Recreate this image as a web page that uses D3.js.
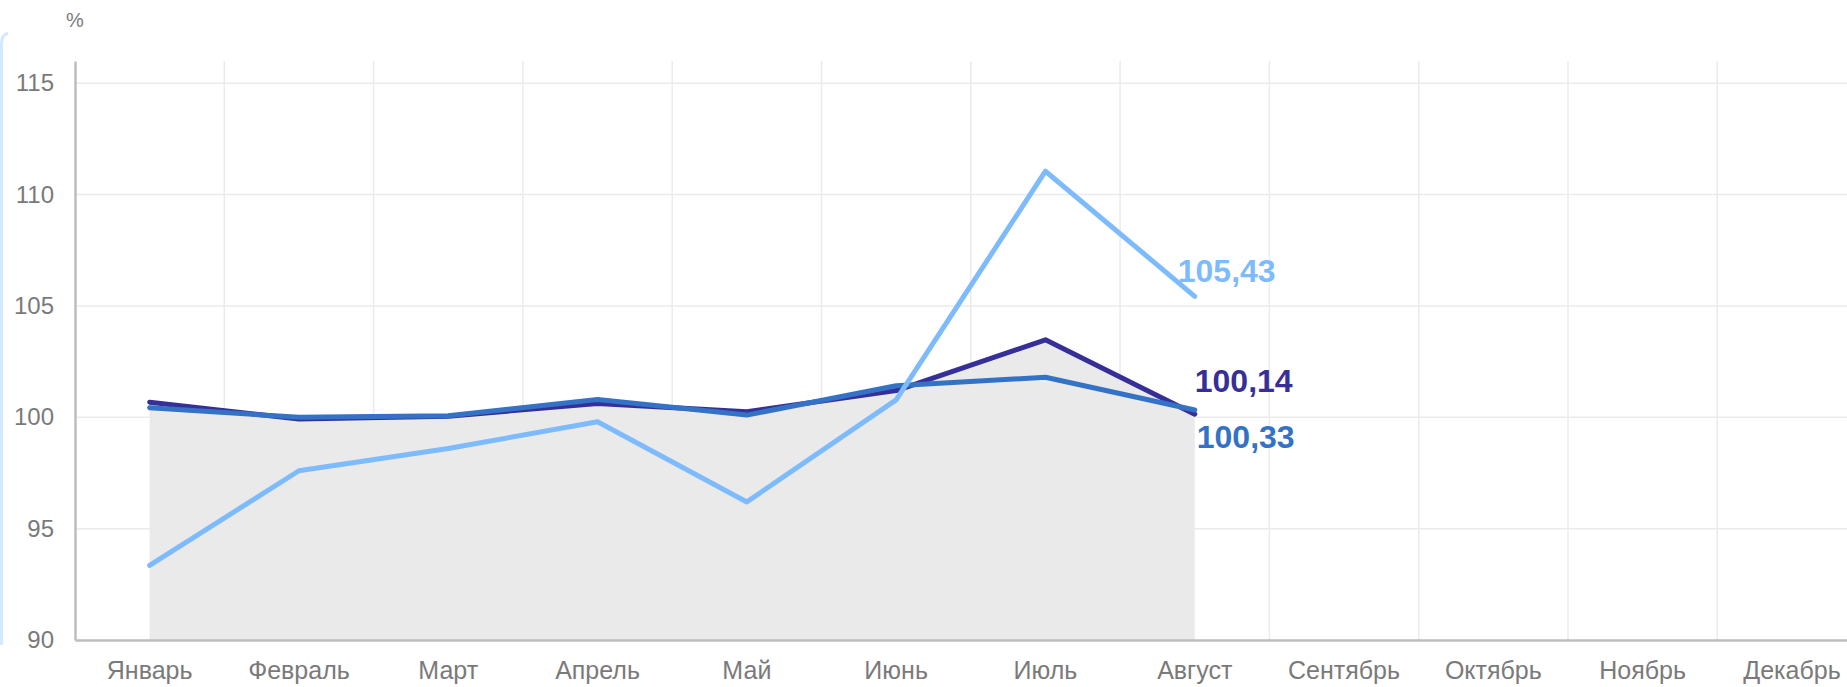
<!DOCTYPE html>
<html>
<head>
<meta charset="utf-8">
<script src="https://cdn.jsdelivr.net/npm/d3@7"></script>
<style>
  body { margin: 0; background: #fff; overflow: hidden; }
  svg { display: block; font-family: Arial, "Liberation Sans", sans-serif; }
</style>
</head>
<body>
<script>
'use strict';

// months and series values
const months = ["Январь", "Февраль", "Март", "Апрель", "Май", "Июнь",
  "Июль", "Август", "Сентябрь", "Октябрь", "Ноябрь", "Декабрь"];
const darkValues = [100.68, 99.92, 100.05, 100.62, 100.25, 101.2, 103.48, 100.14];
const midValues = [100.43, 100.0, 100.07, 100.8, 100.1, 101.42, 101.8, 100.33];
const lightValues = [93.35, 97.6, 98.6, 99.8, 96.2, 100.78, 111.05, 105.43];
const yTicks = [90, 95, 100, 105, 110, 115];
const lastLabels = ["105,43", "100,14", "100,33"];

const width = 1847, height = 687;

let svg = d3.select('body')
  .append('svg')
  .attr('width', width)
  .attr('height', height);

// light blue left edge of the card
svg.append('path')
  .attr('d', 'M1.5,645 L1.5,44 Q1.5,35 8,33')
  .attr('fill', 'none')
  .attr('stroke', '#d3e9ff')
  .attr('stroke-width', 3);

let xScale = d3.scaleBand()
  .domain(months)
  .range([75, 75 + 149.3 * 12])
  .paddingInner(0)
  .paddingOuter(0);

let yScale = d3.scaleLinear()
  .domain([90, 116])
  .range([640, 61]);

let xMid = function(i) { return xScale(months[i]) + xScale.bandwidth() / 2; };

// horizontal grid
svg.append('g')
  .selectAll('line')
  .data(yTicks.slice(1))
  .enter()
  .append('line')
  .attr('x1', 75).attr('x2', width)
  .attr('y1', d => yScale(d)).attr('y2', d => yScale(d))
  .attr('stroke', '#ebebeb')
  .attr('stroke-width', 1.5);

// vertical grid between months
svg.append('g')
  .selectAll('line')
  .data(months.slice(1))
  .enter()
  .append('line')
  .attr('x1', d => xScale(d)).attr('x2', d => xScale(d))
  .attr('y1', 61).attr('y2', 640)
  .attr('stroke', '#ebebeb')
  .attr('stroke-width', 1.5);

// gray area under the dark series
let area = d3.area()
  .x((d, i) => xMid(i))
  .y0(yScale(90))
  .y1(d => yScale(d));

svg.append('path')
  .datum(darkValues)
  .attr('d', area)
  .attr('fill', '#eaeaea');

// axes
let xAxis = d3.axisBottom(xScale).tickSize(0).tickPadding(21);
let gx = svg.append('g')
  .attr('transform', 'translate(0, 640)')
  .call(xAxis);
gx.select('.domain').attr('stroke', '#bdbdbd').attr('stroke-width', 2.5);
gx.selectAll('text')
  .attr('fill', '#7a7a7a')
  .style('font-size', '25px')
  .attr('dy', '0.71em');

let yAxis = d3.axisLeft(yScale).tickValues(yTicks).tickSize(0).tickPadding(21);
let gy = svg.append('g')
  .attr('transform', 'translate(75, 0)')
  .call(yAxis);
gy.select('.domain').attr('stroke', '#bdbdbd').attr('stroke-width', 2.5);
gy.selectAll('text')
  .attr('fill', '#7a7a7a')
  .style('font-size', '24px');

svg.append('text')
  .attr('x', 66)
  .attr('y', 27)
  .attr('fill', '#7a7a7a')
  .style('font-size', '20px')
  .text('%');

// lines
let line = d3.line()
  .x((d, i) => xMid(i))
  .y(d => yScale(d));

const series = [
  { values: lightValues, color: '#7dbbfc', label: lastLabels[0], dx: -17, dy: -14 },
  { values: darkValues, color: '#362f99', label: lastLabels[1], dx: 0, dy: -22 },
  { values: midValues, color: '#3472c6', label: lastLabels[2], dx: 2, dy: 38 }
];

[series[1], series[2], series[0]].forEach(function(s) {
  svg.append('path')
    .datum(s.values)
    .attr('d', line)
    .attr('fill', 'none')
    .attr('stroke', s.color)
    .attr('stroke-width', 5)
    .attr('stroke-linejoin', 'round')
    .attr('stroke-linecap', 'round');
});

series.forEach(function(s) {
  let last = s.values.length - 1;
  svg.append('text')
    .attr('x', xMid(last) + s.dx)
    .attr('y', yScale(s.values[last]) + s.dy)
    .attr('fill', s.color)
    .style('font-size', '32px')
    .style('font-weight', 'bold')
    .text(s.label);
});
</script>
</body>
</html>
